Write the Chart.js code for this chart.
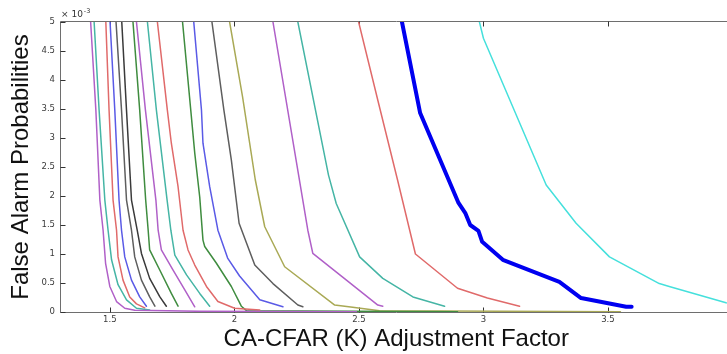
<!DOCTYPE html>
<html><head><meta charset="utf-8">
<script src="https://cdn.jsdelivr.net/npm/chart.js@4/dist/chart.umd.min.js"></script>
<style>html,body{margin:0;padding:0;background:#fff;overflow:hidden;width:727px;height:354px}canvas{display:block}</style>
</head><body><canvas id="c" width="740" height="354"></canvas>
<script>
// Tick labels
const kTicks = [1.5, 2, 2.5, 3, 3.5];
const pfaTicks = [0, 0.5, 1, 1.5, 2, 2.5, 3, 3.5, 4, 4.5, 5]; // x 10^-3

// Curves: [K, Pfa (x10^-3)]
const curve01 = [[1.423,5.0],[1.444,3.48],[1.460,1.93],[1.473,1.41],[1.483,0.84],[1.500,0.44],[1.527,0.18],[1.560,0.064],[1.600,0.03],[1.861,0.012],[2.49,0.006]];
const curve02 = [[1.437,5.0],[1.457,3.48],[1.480,1.93],[1.493,1.41],[1.507,0.90],[1.533,0.47],[1.567,0.21],[1.607,0.064],[1.660,0.034]];
const curve03 = [[1.484,5.0],[1.497,3.48],[1.513,1.93],[1.527,1.41],[1.533,0.95],[1.553,0.55],[1.580,0.26],[1.607,0.14],[1.640,0.07]];
const curve04 = [[1.501,5.0],[1.520,3.48],[1.537,1.93],[1.547,1.41],[1.560,0.95],[1.587,0.55],[1.620,0.26],[1.647,0.10]];
const curve05 = [[1.525,5.0],[1.547,3.48],[1.567,1.93],[1.587,1.41],[1.600,0.95],[1.627,0.55],[1.660,0.26],[1.681,0.10]];
const curve06 = [[1.548,5.0],[1.567,3.48],[1.587,1.93],[1.610,1.41],[1.627,1.01],[1.660,0.58],[1.701,0.26],[1.727,0.10]];
const curve07 = [[1.593,5.0],[1.620,3.48],[1.644,1.93],[1.654,1.41],[1.660,1.07],[1.701,0.72],[1.747,0.32],[1.774,0.10]];
const curve08 = [[1.607,5.0],[1.643,3.48],[1.685,1.93],[1.694,1.41],[1.707,1.07],[1.754,0.72],[1.801,0.38],[1.841,0.09]];
const curve09 = [[1.651,5.0],[1.687,3.48],[1.730,1.93],[1.745,1.41],[1.761,0.98],[1.808,0.64],[1.861,0.32],[1.901,0.10]];
const curve10 = [[1.691,5.0],[1.731,3.48],[1.747,2.91],[1.774,2.16],[1.794,1.41],[1.814,1.07],[1.841,0.81],[1.888,0.44],[1.934,0.18],[2.001,0.064],[2.102,0.034]];
const curve11 = [[1.792,5.0],[1.825,3.48],[1.841,2.74],[1.861,1.98],[1.874,1.24],[1.881,1.13],[1.928,0.84],[1.988,0.44],[2.028,0.10],[2.05,0.02],[2.896,0.006]];
const curve12 = [[1.837,5.0],[1.868,3.48],[1.874,2.91],[1.901,2.16],[1.934,1.41],[1.973,0.93],[2.021,0.62],[2.102,0.21],[2.195,0.09]];
const curve13 = [[1.910,5.0],[1.958,3.48],[1.988,2.62],[2.019,1.53],[2.082,0.81],[2.155,0.49],[2.255,0.12],[2.275,0.09]];
const curve14 = [[1.981,5.0],[2.033,3.71],[2.084,2.28],[2.122,1.47],[2.202,0.78],[2.403,0.12],[2.475,0.08],[2.583,0.02],[3.55,0.006]];
const curve15 = [[2.155,5.0],[2.258,2.36],[2.295,1.41],[2.315,1.01],[2.450,0.55],[2.576,0.12],[2.596,0.10]];
const curve16 = [[2.255,5.0],[2.378,2.36],[2.409,1.87],[2.503,0.95],[2.596,0.58],[2.717,0.26],[2.844,0.10]];
const curve17 = [[2.499,5.0],[2.579,3.6],[2.655,2.28],[2.727,1.0],[2.896,0.41],[3.016,0.24],[3.145,0.10]];
const curve18 = [[2.673,5.0],[2.746,3.43],[2.900,1.88],[2.928,1.70],[2.947,1.50],[2.980,1.40],[2.995,1.21],[3.078,0.90],[3.305,0.52],[3.392,0.24],[3.573,0.09],[3.595,0.09]];
const curve19 = [[2.984,5.0],[3.000,4.72],[3.252,2.19],[3.372,1.53],[3.506,0.95],[3.706,0.49],[3.746,0.44],[3.974,0.16],[4.0,0.15]];

const curves = [curve01,curve02,curve03,curve04,curve05,curve06,curve07,curve08,curve09,curve10,
                curve11,curve12,curve13,curve14,curve15,curve16,curve17,curve18,curve19];

// Styles
const PUR='#b060c8', TEA='#45b5a5', RED='#e06a6a', BLU='#5a5ae6', GRY='#5e5e5e', BLK='#3a3a3a',
      GRN='#3f8c3f', OLV='#a9a955', BBL='#0000f0', CYA='#45e0dc';
const curveColors = [PUR,TEA,RED,BLU,GRY,BLK,GRN,PUR,TEA,RED,GRN,BLU,GRY,OLV,PUR,TEA,RED,BBL,CYA];
const curveWidths = curves.map((c,i)=> i===17 ? 4 : 1.5);

const datasets = curves.map((c,i)=>({
  data: c.map(p=>({x:p[0], y:p[1]})),
  borderColor: curveColors[i],
  backgroundColor: curveColors[i],
  borderWidth: curveWidths[i],
  showLine: true,
  pointRadius: 0,
  tension: 0,
  borderJoinStyle: 'round',
  borderCapStyle: 'round',
  fill: false
}));

const frame = {
  id: 'frame',
  beforeDatasetsDraw(chart){
    const {ctx, chartArea:a, scales:{x,y}} = chart;
    ctx.save();
    ctx.strokeStyle = '#6e6e6e';
    ctx.lineWidth = 1;
    const L = Math.round(a.left)+0.5, T = Math.round(a.top)-0.5, B = Math.round(a.bottom)+0.5, R = Math.round(a.right)-0.5;
    ctx.beginPath();
    ctx.moveTo(L,T); ctx.lineTo(R,T); ctx.lineTo(R,B); ctx.lineTo(L,B); ctx.closePath();
    ctx.stroke();
    ctx.strokeStyle = '#333';
    const tl = 5;
    ctx.beginPath();
    kTicks.forEach(v=>{
      const px = Math.round(x.getPixelForValue(v))+0.5;
      ctx.moveTo(px,B); ctx.lineTo(px,B-tl);
      ctx.moveTo(px,T); ctx.lineTo(px,T+tl);
    });
    pfaTicks.forEach(v=>{
      const py = Math.round(y.getPixelForValue(v))+0.5;
      ctx.moveTo(L,py); ctx.lineTo(L+tl,py);
      ctx.moveTo(R,py); ctx.lineTo(R-tl,py);
    });
    ctx.stroke();
    // exponent label
    ctx.fillStyle = '#333';
    ctx.textBaseline = 'alphabetic';
    ctx.font = '9px "DejaVu Sans"';
    ctx.fillText('\u00d7 10', a.left+1, a.top-5);
    const w = ctx.measureText('\u00d7 10').width;
    ctx.font = '6.5px "DejaVu Sans"';
    ctx.fillText('-3', a.left+1+w+1, a.top-9);
    ctx.restore();
  }
};

new Chart(document.getElementById('c'), {
  type: 'scatter',
  data: { datasets },
  options: {
    responsive: false,
    devicePixelRatio: 1,
    animation: false,
    layout: { padding: { top: 22, right: 7.5, left: 0, bottom: 0 } },
    plugins: { legend: { display: false }, tooltip: { enabled: false } },
    elements: { line: { tension: 0 } },
    scales: {
      x: {
        type: 'linear', min: 1.3, max: 4.0,
        afterBuildTicks: s => { s.ticks = kTicks.map(v=>({value:v})); },
        afterFit: s => { s.height = 42; },
        grid: { display: false, drawTicks: false },
        border: { display: false },
        ticks: { padding: 3, color: '#3a3a3a', font: { family: 'DejaVu Sans', size: 8.5 }, callback: v => String(v), maxRotation: 0 },
        title: { display: true, text: 'CA-CFAR (K) Adjustment Factor', color: '#111',
                 font: { family: 'Liberation Sans', size: 24 }, padding: { top: 0, bottom: 0 } }
      },
      y: {
        type: 'linear', min: 0, max: 5,
        afterBuildTicks: s => { s.ticks = pfaTicks.map(v=>({value:v})); },
        afterFit: s => { s.width = 60; },
        grid: { display: false, drawTicks: false },
        border: { display: false },
        ticks: { padding: 5, color: '#3a3a3a', font: { family: 'DejaVu Sans', size: 8.5 }, callback: v => String(v) },
        title: { display: true, text: 'False Alarm Probabilities', color: '#111',
                 font: { family: 'Liberation Sans', size: 24 }, padding: { top: 7, bottom: 0 } }
      }
    }
  },
  plugins: [frame]
});
</script>
</body></html>
